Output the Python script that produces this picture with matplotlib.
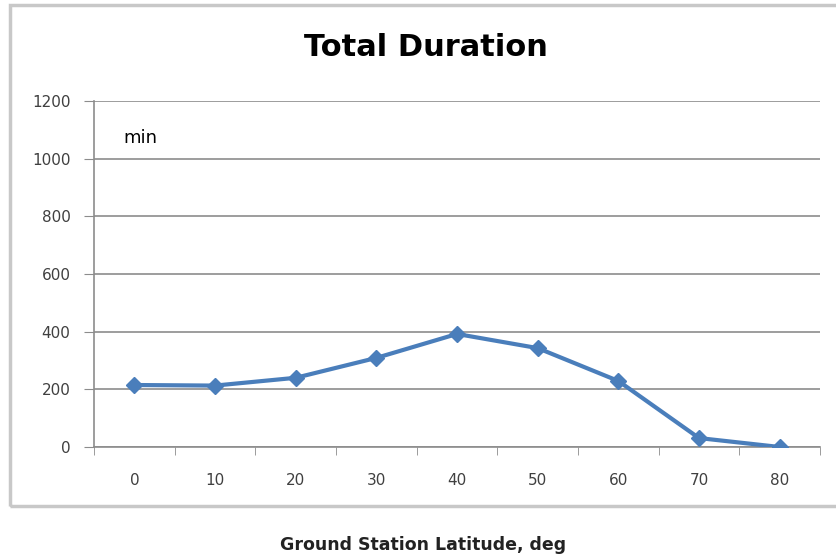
import matplotlib
matplotlib.use("Agg")
import matplotlib.pyplot as plt
from matplotlib.patches import Rectangle

# Datos
latitudes = ["0", "10", "20", "30", "40", "50", "60", "70", "80"]
duracion = [215, 213, 240, 309, 392, 343, 229, 31, 0]
yticks = [0, 200, 400, 600, 800, 1000, 1200]

fig = plt.figure(figsize=(8.36, 5.56), dpi=100)

# Marco gris del grafico
marco = Rectangle((10 / 836, 1 - 506 / 556), 840 / 836, 501 / 556,
                  transform=fig.transFigure, fill=False,
                  edgecolor="#c8c8c8", linewidth=2.5)
fig.patches.append(marco)

ax = fig.add_axes([94 / 836, 1 - 447 / 556, 726 / 836, 346 / 556])

x = list(range(len(latitudes)))
ax.plot(x, duracion, color="#4a7ebb", linewidth=3, marker="D",
        markersize=8, markerfacecolor="#4a7ebb", markeredgecolor="#4a7ebb",
        zorder=3)

ax.set_xlim(-0.5, len(latitudes) - 0.5)
ax.set_ylim(0, 1200)
ax.set_yticks(yticks)
ax.set_yticklabels([str(v) for v in yticks])
ax.set_xticks(x)
ax.set_xticklabels(latitudes)
ax.set_xticks([i - 0.5 for i in range(len(latitudes) + 1)], minor=True)

ax.grid(axis="y", color="#8c8c8c", linewidth=1.2)
ax.set_axisbelow(True)
for lado in ["top", "right"]:
    ax.spines[lado].set_visible(False)
ax.spines["left"].set_color("#8c8c8c")
ax.spines["bottom"].set_color("#8c8c8c")
ax.spines["left"].set_linewidth(1.2)
ax.spines["bottom"].set_linewidth(1.2)

ax.tick_params(axis="y", length=7, color="#8c8c8c", labelsize=11,
               labelcolor="#404040", pad=10)
ax.tick_params(axis="x", which="major", length=0, labelsize=11,
               labelcolor="#404040", pad=19)
ax.tick_params(axis="x", which="minor", length=6, color="#8c8c8c")

ax.text(0.04, 0.893, "min", transform=ax.transAxes, fontsize=13,
        color="black", va="center")

fig.text(426 / 836, 1 - 48 / 556, "Total Duration", ha="center",
         va="center", fontsize=22, fontweight="bold")
fig.text(423 / 836, 1 - 545 / 556, "Ground Station Latitude, deg",
         ha="center", va="center", fontsize=12.5, fontweight="bold",
         color="#222222")

fig.savefig("out.png", dpi=100)
